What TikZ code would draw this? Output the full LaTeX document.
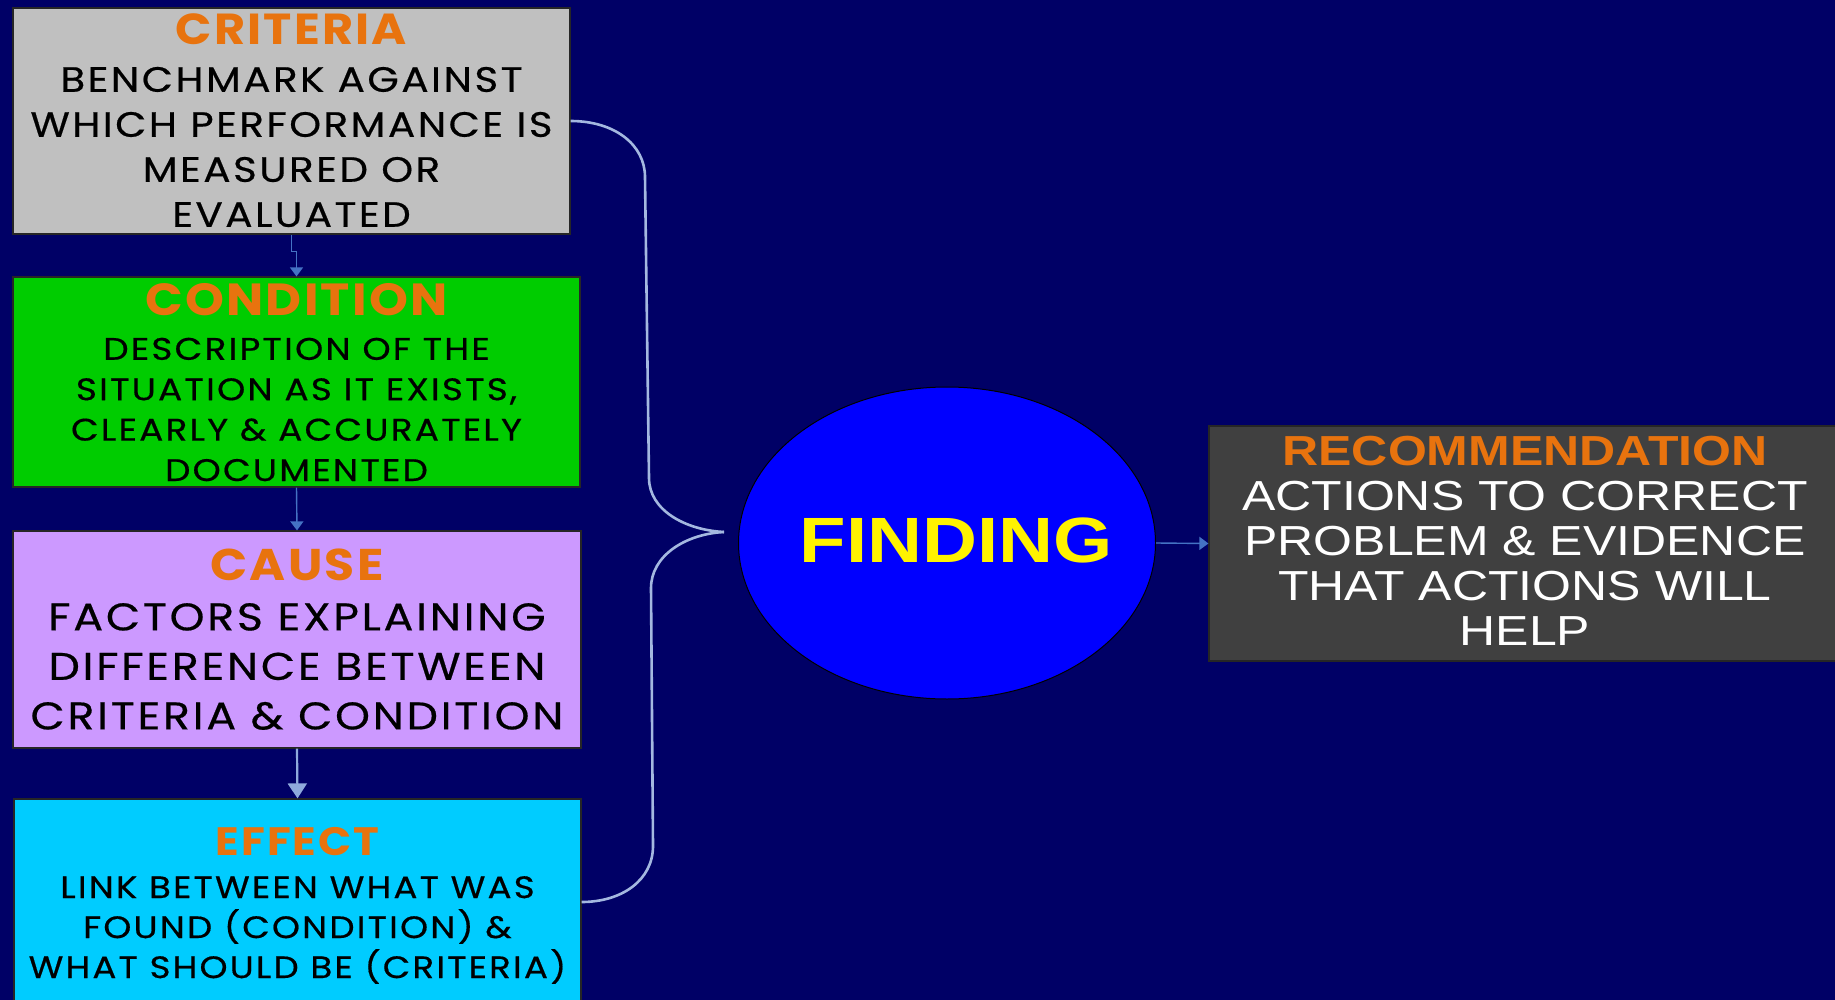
\documentclass[tikz,border=0pt]{standalone}
\usepackage{fontspec}
\setmainfont{Liberation Sans}
\newfontfamily\geo[FakeStretch=1.15,LetterSpace=7,FakeBold=0.5]{Poppins}
\newfontfamily\geoT[FakeStretch=1.1,LetterSpace=5]{Poppins}
\newfontfamily\ari[FakeStretch=1.19]{Liberation Sans}
\usetikzlibrary{shapes.geometric,arrows.meta}
\definecolor{bg}{HTML}{000066}
\definecolor{critfill}{HTML}{C0C0C0}
\definecolor{condfill}{HTML}{00CC00}
\definecolor{causefill}{HTML}{CC99FF}
\definecolor{efffill}{HTML}{00CCFF}
\definecolor{recfill}{HTML}{404040}
\definecolor{findfill}{HTML}{0000FF}
\definecolor{orangeT}{HTML}{E8730E}
\definecolor{bracecol}{HTML}{A4B8E0}
\definecolor{arrowblue}{HTML}{4472C4}
\definecolor{arrowlight}{HTML}{8FAADC}
\begin{document}
\begin{tikzpicture}[x=0.5pt,y=-0.5pt,
  box/.style={draw=black!85, line width=0.6pt, rectangle, inner sep=0pt},
  ttl/.style={text=orangeT, inner sep=0pt},
  bodytext/.style={align=center, inner sep=0pt, text=black},
  conn/.style={draw=arrowblue, line width=0.7pt, -{Triangle[length=4.5pt,width=6.5pt]}},
  connwide/.style={draw=arrowlight, line width=1.1pt, -{Triangle[length=7.5pt,width=9.5pt]}},
  bracestyle/.style={draw=bracecol, line width=1.3pt}]
\useasboundingbox (0,0) rectangle (1835,1000);
\fill[bg] (0,0) rectangle (1835,1000);

% boxes
\node[box, fill=critfill, minimum width=278.5pt, minimum height=113pt] (crit) at (291.5,121) {};
\node[box, fill=condfill, minimum width=283.5pt, minimum height=105pt] (cond) at (296.5,382) {};
\node[box, fill=causefill, minimum width=284pt, minimum height=108.5pt] (cause) at (297,639.5) {};
\node[box, fill=efffill, minimum width=283.5pt, minimum height=103pt] (eff) at (297.5,902) {};
\node[box, fill=recfill, minimum width=321pt, minimum height=117.5pt] (rec) at (1530,543.5) {};
\node[ellipse, draw=black, line width=0.5pt, fill=findfill, minimum width=208.5pt, minimum height=156pt, inner sep=0pt] (find) at (947,543) {};

% texts
\node[ttl, font=\geoT\bfseries\fontsize{21.7}{24}\selectfont] (critT) at (291.5,29) {CRITERIA};
\node[bodytext, font=\geo\fontsize{17.6}{22.5}\selectfont] (critB) at (291.5,147) {BENCHMARK AGAINST\\WHICH PERFORMANCE IS\\MEASURED OR\\EVALUATED};

\node[ttl, font=\geoT\bfseries\fontsize{22.5}{24}\selectfont] (condT) at (296.5,300) {CONDITION};
\node[bodytext, font=\geo\fontsize{15.6}{20.2}\selectfont] (condB) at (296.5,409.5) {DESCRIPTION OF THE\\SITUATION AS IT EXISTS,\\CLEARLY \& ACCURATELY\\DOCUMENTED};

\node[ttl, font=\geoT\bfseries\fontsize{22.2}{24}\selectfont] (causeT) at (297,565) {CAUSE};
\node[bodytext, font=\geo\fontsize{19.3}{24.75}\selectfont] (causeB) at (297,666.5) {FACTORS EXPLAINING\\DIFFERENCE BETWEEN\\CRITERIA \& CONDITION};

\node[ttl, font=\geoT\bfseries\fontsize{19.8}{22}\selectfont] (effT) at (297.5,842) {EFFECT};
\node[bodytext, font=\geo\fontsize{15.5}{20}\selectfont] (effB) at (297.5,930) {LINK BETWEEN WHAT WAS\\FOUND (CONDITION) \&\\WHAT SHOULD BE (CRITERIA)};

\node[ttl, font=\ari\bfseries\fontsize{21}{24}\selectfont] (recT) at (1525,451) {RECOMMENDATION};
\node[bodytext, text=white, font=\ari\fontsize{21}{22.5}\selectfont] (recB) at (1525,563.5) {ACTIONS TO CORRECT\\PROBLEM \& EVIDENCE\\THAT ACTIONS WILL\\HELP};

\node[inner sep=0pt, text=yellow, font=\ari\bfseries\fontsize{32}{36}\selectfont] (findT) at (956.5,540) {FINDING};

% brace
\coordinate (tip) at (724,532);
\draw[bracestyle] (crit.east) .. controls (615,121) and (645,145) .. (645,177) -- (649,478) .. controls (649,510) and (685,530) .. (tip);
\draw[bracestyle] (tip) .. controls (685,534) and (651,556) .. (651,588) -- (653,846) .. controls (653,880) and (622,902) .. (eff.east);

% connectors
\draw[conn] (crit.south) -- ++(0,17) -| (cond.north);
\draw[conn] (cond.south) -- (cause.north);
\draw[connwide] (cause.south) -- (eff.north);
\draw[conn] (find.east) -- (rec.west);
\end{tikzpicture}
\end{document}
